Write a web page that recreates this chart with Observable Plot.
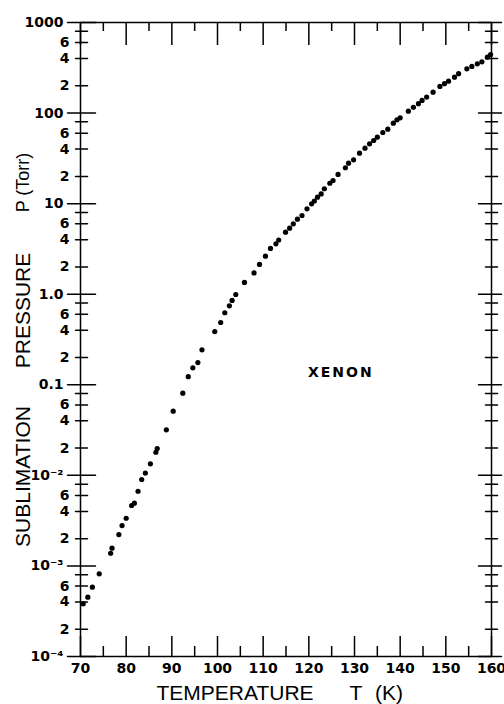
<!DOCTYPE html>
<html><head><meta charset="utf-8">
<script src="https://cdn.jsdelivr.net/npm/d3@7"></script>
<script src="https://cdn.jsdelivr.net/npm/@observablehq/plot@0.6"></script>
<style>body{margin:0;background:#fff;overflow:hidden}</style>
</head><body><div id="chart"></div>
<script>
// Xenon sublimation pressure data
const temperatureK = [70.6,71.6,72.6,74.1,76.6,76.9,78.4,79.1,80.0,81.2,
  81.8,82.6,83.4,84.2,85.3,86.5,86.8,88.8,90.3,92.4,
  93.6,94.6,95.7,96.6,99.4,100.7,101.6,102.6,103.2,104.0,
  105.9,108.0,109.2,110.5,111.6,112.8,113.4,114.9,115.8,116.6,
  117.5,118.5,119.6,120.6,121.2,121.9,122.7,123.4,124.6,125.3,
  126.4,128.0,128.7,129.8,131.1,132.3,133.3,134.2,135.0,136.2,
  137.3,138.5,139.3,140.0,141.8,142.9,144.0,144.8,145.8,147.2,
  148.7,149.7,150.6,151.9,152.8,154.6,155.7,156.9,157.9,159.1,159.8];
const pressureTorr = [3.82e-4,4.52e-4,5.82e-4,8.18e-4,1.38e-3,1.57e-3,2.22e-3,2.79e-3,3.36e-3,4.65e-3,
  4.93e-3,6.68e-3,9.0e-3,1.06e-2,1.34e-2,1.80e-2,1.98e-2,3.18e-2,5.11e-2,8.07e-2,
  0.123,0.154,0.176,0.243,0.387,0.487,0.624,0.745,0.853,0.993,
  1.35,1.72,2.13,2.63,3.20,3.60,3.97,4.84,5.36,5.99,
  6.73,7.40,8.77,9.96,10.7,11.8,12.8,14.6,16.8,18.0,
  21.0,24.9,28.0,30.5,36.1,41.0,45.8,49.8,54.2,61.0,
  66.4,77.3,84.3,88.7,105,116,127,138,150,170,
  197,211,225,249,272,308,327,350,368,414,443];

// Ticks and tick labels
const xMajorTicks = [70,80,90,100,110,120,130,140,150,160];
const xMinorTicks = [75,85,95,105,115,125,135,145,155];
const yDecades = [1e-4,1e-3,1e-2,0.1,1,10,100,1000];
const yDecadeLabels = ["10⁻⁴","10⁻³","10⁻²","0.1","1.0","10","100","1000"];
const yMinorLabeledMantissas = [2,4,6];
const yMinorUnlabeledMantissas = [8];

// Annotation
const annotations = [{T:127.0, P:0.138, label:"XENON"}];

const data = temperatureK.map((T,i) => ({T, P: pressureTorr[i]}));
const lower = yDecades.slice(0,-1);
const yMinorLabels = yMinorLabeledMantissas.flatMap(m => lower.map(d => ({v: +(m*d).toPrecision(6), label: String(m)})));
const yMinorAll = yMinorLabeledMantissas.concat(yMinorUnlabeledMantissas).flatMap(m => lower.map(d => +(m*d).toPrecision(6)));
const yDecadeLabelData = yDecades.map((v,i) => ({v, label: yDecadeLabels[i]}));

const tickFont = {fontFamily:"DejaVu Sans", fontWeight:"bold"};
const titleFont = {fontFamily:"Liberation Sans"};
const sw = 1.5;
// horizontal tick shape: extends `a` px outward (left) and `b` px inward (right) before rotation
const hTick = (a, b) => ({draw(ctx) { ctx.moveTo(0, a); ctx.lineTo(0, -b); }});

const chart = Plot.plot({
  width: 504, height: 704,
  marginLeft: 80, marginRight: 13, marginTop: 22, marginBottom: 48,
  x: {domain:[70,160]},
  y: {type:"log", domain:[1e-4,1000], axis:null},
  style: {background:"white", color:"black"},
  marks: [
    Plot.frame({stroke:"black", strokeWidth: sw}),
    // left axis ticks (crossing the axis line)
    Plot.vector(yDecades, {y: d => d, frameAnchor:"left", rotate:90, anchor:"start", shape: hTick(13, 15), stroke:"black", strokeWidth:sw}),
    Plot.vector(yMinorAll, {y: d => d, frameAnchor:"left", rotate:90, anchor:"start", shape: hTick(5, 7), stroke:"black", strokeWidth:sw}),
    // left tick labels
    Plot.text(yDecadeLabelData, {y:"v", text:"label", frameAnchor:"left", textAnchor:"end", lineAnchor:"middle", dx:-17, fontSize:14, ...tickFont}),
    Plot.text(yMinorLabels, {y:"v", text:"label", frameAnchor:"left", textAnchor:"end", lineAnchor:"middle", dx:-11, fontSize:14, ...tickFont}),
    // right axis ticks
    Plot.vector(yDecades, {y: d => d, frameAnchor:"right", rotate:90, anchor:"start", shape: hTick(13, 10), stroke:"black", strokeWidth:sw}),
    Plot.vector(yMinorAll, {y: d => d, frameAnchor:"right", rotate:90, anchor:"start", shape: hTick(6, 6), stroke:"black", strokeWidth:sw}),
    // bottom axis
    Plot.axisX(xMajorTicks, {anchor:"bottom", tickSize:-20, fill:"none", label:null, strokeWidth:sw}),
    Plot.axisX(xMinorTicks, {anchor:"bottom", tickSize:-10, fill:"none", label:null, strokeWidth:sw}),
    Plot.axisX(xMajorTicks, {anchor:"bottom", tickSize:0, tickPadding:7, label:null, fontSize:14, ...tickFont, tickFormat: d => String(d)}),
    // top axis
    Plot.axisX(xMajorTicks, {anchor:"top", tickSize:-22, fill:"none", label:null, strokeWidth:sw}),
    Plot.axisX(xMinorTicks, {anchor:"top", tickSize:-8, fill:"none", label:null, strokeWidth:sw}),
    // data
    Plot.dot(data, {x:"T", y:"P", r:2.6, fill:"black", stroke:null}),
    // annotations
    Plot.text(annotations, {x:"T", y:"P", text:"label", fontSize:14, ...tickFont}),
    Plot.text(["P (Torr)"], {frameAnchor:"left", textAnchor:"middle", lineAnchor:"middle", dx:-57, dy:-157, rotate:-90, fontSize:18, ...titleFont}),
    Plot.text(["PRESSURE"], {frameAnchor:"left", textAnchor:"middle", lineAnchor:"middle", dx:-57, dy:-29, rotate:-90, fontSize:21, ...titleFont}),
    Plot.text(["SUBLIMATION"], {frameAnchor:"left", textAnchor:"middle", lineAnchor:"middle", dx:-57, dy:137, rotate:-90, fontSize:21, ...titleFont}),
    Plot.text(["TEMPERATURE"], {frameAnchor:"bottom", textAnchor:"middle", lineAnchor:"middle", dx:-51, dy:37, fontSize:21, ...titleFont}),
    Plot.text(["T"], {frameAnchor:"bottom", textAnchor:"middle", lineAnchor:"middle", dx:70, dy:37, fontSize:21, ...titleFont}),
    Plot.text(["(K)"], {frameAnchor:"bottom", textAnchor:"middle", lineAnchor:"middle", dx:103, dy:37, fontSize:21, ...titleFont})
  ]
});
document.getElementById("chart").appendChild(chart);
chart.querySelectorAll("text").forEach(t => {
  if (t.textContent === "XENON") t.setAttribute("letter-spacing", "2");
});
</script>
</body></html>
